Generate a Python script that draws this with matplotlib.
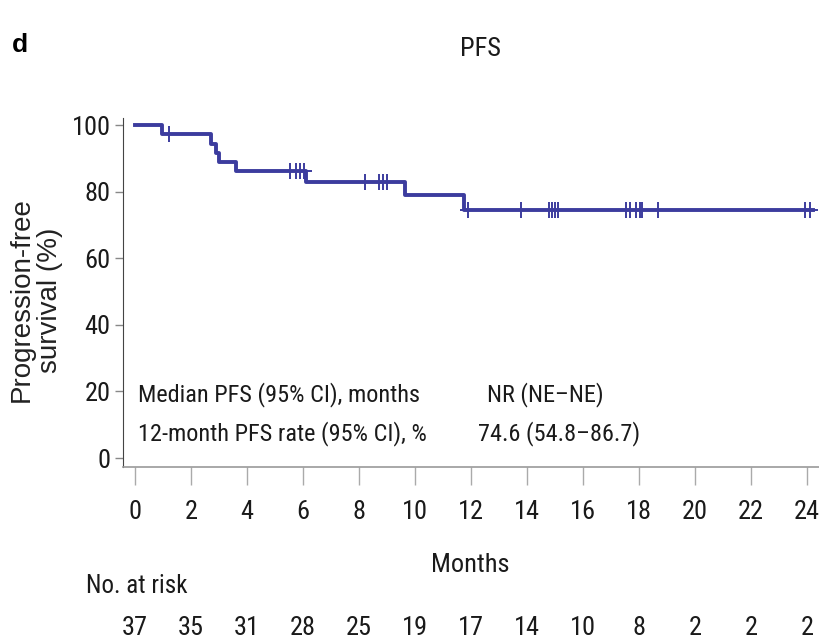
import numpy as np
import matplotlib.pyplot as plt
from matplotlib import font_manager
from matplotlib.transforms import blended_transform_factory

# Kaplan-Meier steps
step_months = [0, 0.95, 2.7, 2.9, 3.0, 3.6, 6.1, 9.65, 11.75, 24.2]
step_pfs = [100, 97.3, 94.5, 91.7, 89.0, 86.2, 83.0, 79.0, 74.6, 74.6]

# censored observations (months)
censor_months = [1.2, 5.55, 5.75, 5.9, 6.03, 8.2, 8.7, 8.87, 8.98, 11.88,
                 13.77, 14.78, 14.9, 15.0, 15.1, 17.55, 17.67, 17.9, 18.02,
                 18.1, 18.68, 23.94, 24.1]

risk_months = [0, 2, 4, 6, 8, 10, 12, 14, 16, 18, 20, 22, 24]
at_risk = [37, 35, 31, 28, 25, 19, 17, 14, 10, 8, 2, 2, 2]

# look for a narrow sans font, the reference uses condensed Helvetica
fonts = font_manager.fontManager.ttflist
names = {f.name for f in fonts}
narrow_family, narrow_stretch = 'Liberation Sans', 'normal'
for cand in ['Liberation Sans Narrow', 'Arial Narrow', 'Roboto Condensed',
             'Open Sans Condensed', 'Noto Sans Condensed',
             'DejaVu Sans Condensed']:
    if cand in names:
        narrow_family = cand
        break
else:
    for f in fonts:
        if f.name in ('Roboto', 'Noto Sans', 'Open Sans', 'DejaVu Sans',
                      'Liberation Sans') \
                and f.stretch in ('condensed', 'semi-condensed', 300, 400):
            narrow_family, narrow_stretch = f.name, f.stretch
            break

narrow = dict(family=[narrow_family, 'DejaVu Sans'], stretch=narrow_stretch)
wide = ['Liberation Sans', 'DejaVu Sans']
line_col = '#3c3c9e'
txt_col = '#1a1a1a'

fig = plt.figure(figsize=(8.2, 6.44), dpi=100)
ax = fig.add_axes([0.15, 0.2748, 0.85, 0.542])

ax.step(step_months, step_pfs, where='post', color=line_col, lw=2.8)
idx = np.searchsorted(step_months, censor_months, side='right') - 1
censor_pfs = [step_pfs[i] for i in idx]
ax.plot(censor_months, censor_pfs, ls='none', marker='+', ms=12,
        mew=1.4, color=line_col)

ax.set_xlim(-0.43, 24.46)
ax.set_ylim(-2.7, 102.2)
ax.set_xticks(risk_months)
ax.set_yticks([0, 20, 40, 60, 80, 100])
for s in ['top', 'right']:
    ax.spines[s].set_visible(False)
ax.spines['left'].set_color('#444444')
ax.spines['bottom'].set_color('#999999')
ax.spines['bottom'].set_linewidth(1.2)
ax.tick_params(axis='x', length=13, width=1, color='#aaaaaa', pad=11)
ax.tick_params(axis='y', length=6, width=1, color='#888888', pad=3)
for lab in ax.get_xticklabels() + ax.get_yticklabels():
    lab.set_family(narrow['family'])
    lab.set_stretch(narrow_stretch)
    lab.set_fontsize(19)
    lab.set_color(txt_col)

fig.text(36 / 820, 1 - 300 / 644, 'Progression-free\nsurvival (%)',
         family=wide, fontsize=20, color='#222222', rotation=90,
         ha='center', va='center', multialignment='center', linespacing=1.12)

ax.text(0.1, 19.0, 'Median PFS (95% CI), months', fontsize=17.5,
        va='center', color=txt_col, **narrow)
ax.text(12.57, 19.0, 'NR (NE\u2013NE)', fontsize=17.5,
        va='center', color=txt_col, **narrow)
ax.text(0.1, 7.5, '12-month PFS rate (95% CI), %', fontsize=17.5,
        va='center', color=txt_col, **narrow)
ax.text(12.25, 7.5, '74.6 (54.8\u201386.7)', fontsize=17.5,
        va='center', color=txt_col, **narrow)

fig.text(481 / 820, 1 - 49 / 644, 'PFS', fontsize=19,
         ha='center', va='center', color=txt_col, **narrow)
fig.text(12 / 820, 1 - 45 / 644, 'd', family=wide, fontsize=19,
         fontweight='bold', ha='left', va='center')

fig.text(470 / 820, 1 - 565 / 644, 'Months', fontsize=19,
         ha='center', va='center', color=txt_col, **narrow)
fig.text(86 / 820, 1 - 586 / 644, 'No. at risk', fontsize=18,
         ha='left', va='center', color=txt_col, **narrow)

trans = blended_transform_factory(ax.transData, fig.transFigure)
for m, n in zip(risk_months, at_risk):
    ax.text(m, 1 - 628 / 644, str(n), transform=trans, fontsize=19,
            ha='center', va='center', color=txt_col, **narrow)

fig.savefig('out.png', dpi=100)
